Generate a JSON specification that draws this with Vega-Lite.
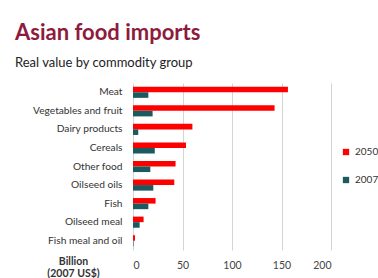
{
  "$schema": "https://vega.github.io/schema/vega-lite/v6.json",
  "autosize": "none",
  "width": 198,
  "height": 167,
  "padding": {"left": 133, "top": 83, "right": 47, "bottom": 28},
  "background": "white",
  "title": {
    "text": "Asian food imports",
    "subtitle": "Real value by commodity group",
    "anchor": "start",
    "frame": "group",
    "dx": -118,
    "offset": 12,
    "font": "Lato",
    "fontSize": 22,
    "fontWeight": "bold",
    "color": "#8e1b3d",
    "subtitleFont": "Lato",
    "subtitleFontSize": 13,
    "subtitleColor": "#222222",
    "subtitlePadding": 12
  },
  "data": {
    "values": [
      {"group": "Meat", "year": "2050", "value": 156.5},
      {"group": "Meat", "year": "2007", "value": 15.5},
      {"group": "Vegetables and fruit", "year": "2050", "value": 143},
      {"group": "Vegetables and fruit", "year": "2007", "value": 19.8},
      {"group": "Dairy products", "year": "2050", "value": 60},
      {"group": "Dairy products", "year": "2007", "value": 5.3},
      {"group": "Cereals", "year": "2050", "value": 53.5},
      {"group": "Cereals", "year": "2007", "value": 22},
      {"group": "Other food", "year": "2050", "value": 43},
      {"group": "Other food", "year": "2007", "value": 17.5},
      {"group": "Oilseed oils", "year": "2050", "value": 41.7},
      {"group": "Oilseed oils", "year": "2007", "value": 20.5},
      {"group": "Fish", "year": "2050", "value": 22.8},
      {"group": "Fish", "year": "2007", "value": 15.5},
      {"group": "Oilseed meal", "year": "2050", "value": 10.7},
      {"group": "Oilseed meal", "year": "2007", "value": 6.7},
      {"group": "Fish meal and oil", "year": "2050", "value": 2},
      {"group": "Fish meal and oil", "year": "2007", "value": 0.5}
    ]
  },
  "mark": {"type": "bar"},
  "encoding": {
    "y": {
      "field": "group",
      "type": "nominal",
      "sort": null,
      "scale": {"paddingInner": 0.4, "paddingOuter": 0.2},
      "axis": {
        "title": null,
        "domain": false,
        "ticks": false,
        "labelPadding": 11,
        "labelFont": "Lato",
        "labelFontSize": 10.2,
        "labelColor": "#333333"
      }
    },
    "yOffset": {
      "field": "year",
      "type": "nominal",
      "sort": ["2050", "2007"],
      "scale": {"padding": 0}
    },
    "x": {
      "field": "value",
      "type": "quantitative",
      "scale": {"domain": [0, 200]},
      "axis": {
        "values": [0, 50, 100, 150, 200],
        "domain": false,
        "ticks": false,
        "grid": true,
        "gridColor": "#d4d4d4",
        "labelPadding": 10,
        "labelFont": "Lato",
        "labelFontSize": 10.5,
        "labelColor": "#444444",
        "title": ["Billion", "(2007 US$)"],
        "titleFont": "Lato",
        "titleFontSize": 10.5,
        "titleFontWeight": "bold",
        "titleColor": "#333333",
        "titleX": -60,
        "titleY": 14,
        "titleAlign": "center",
        "titleBaseline": "alphabetic",
        "titleLineHeight": 12
      }
    },
    "color": {
      "field": "year",
      "type": "nominal",
      "scale": {"domain": ["2050", "2007"], "range": ["#ff0000", "#1b5a5f"]},
      "legend": {
        "title": null,
        "orient": "none",
        "legendX": 208,
        "legendY": 64,
        "symbolType": "square",
        "symbolSize": 40,
        "symbolStrokeWidth": 0,
        "rowPadding": 18,
        "labelOffset": 4,
        "labelFont": "Lato",
        "labelFontSize": 10,
        "labelColor": "#333333"
      }
    }
  },
  "config": {"view": {"stroke": null}}
}
